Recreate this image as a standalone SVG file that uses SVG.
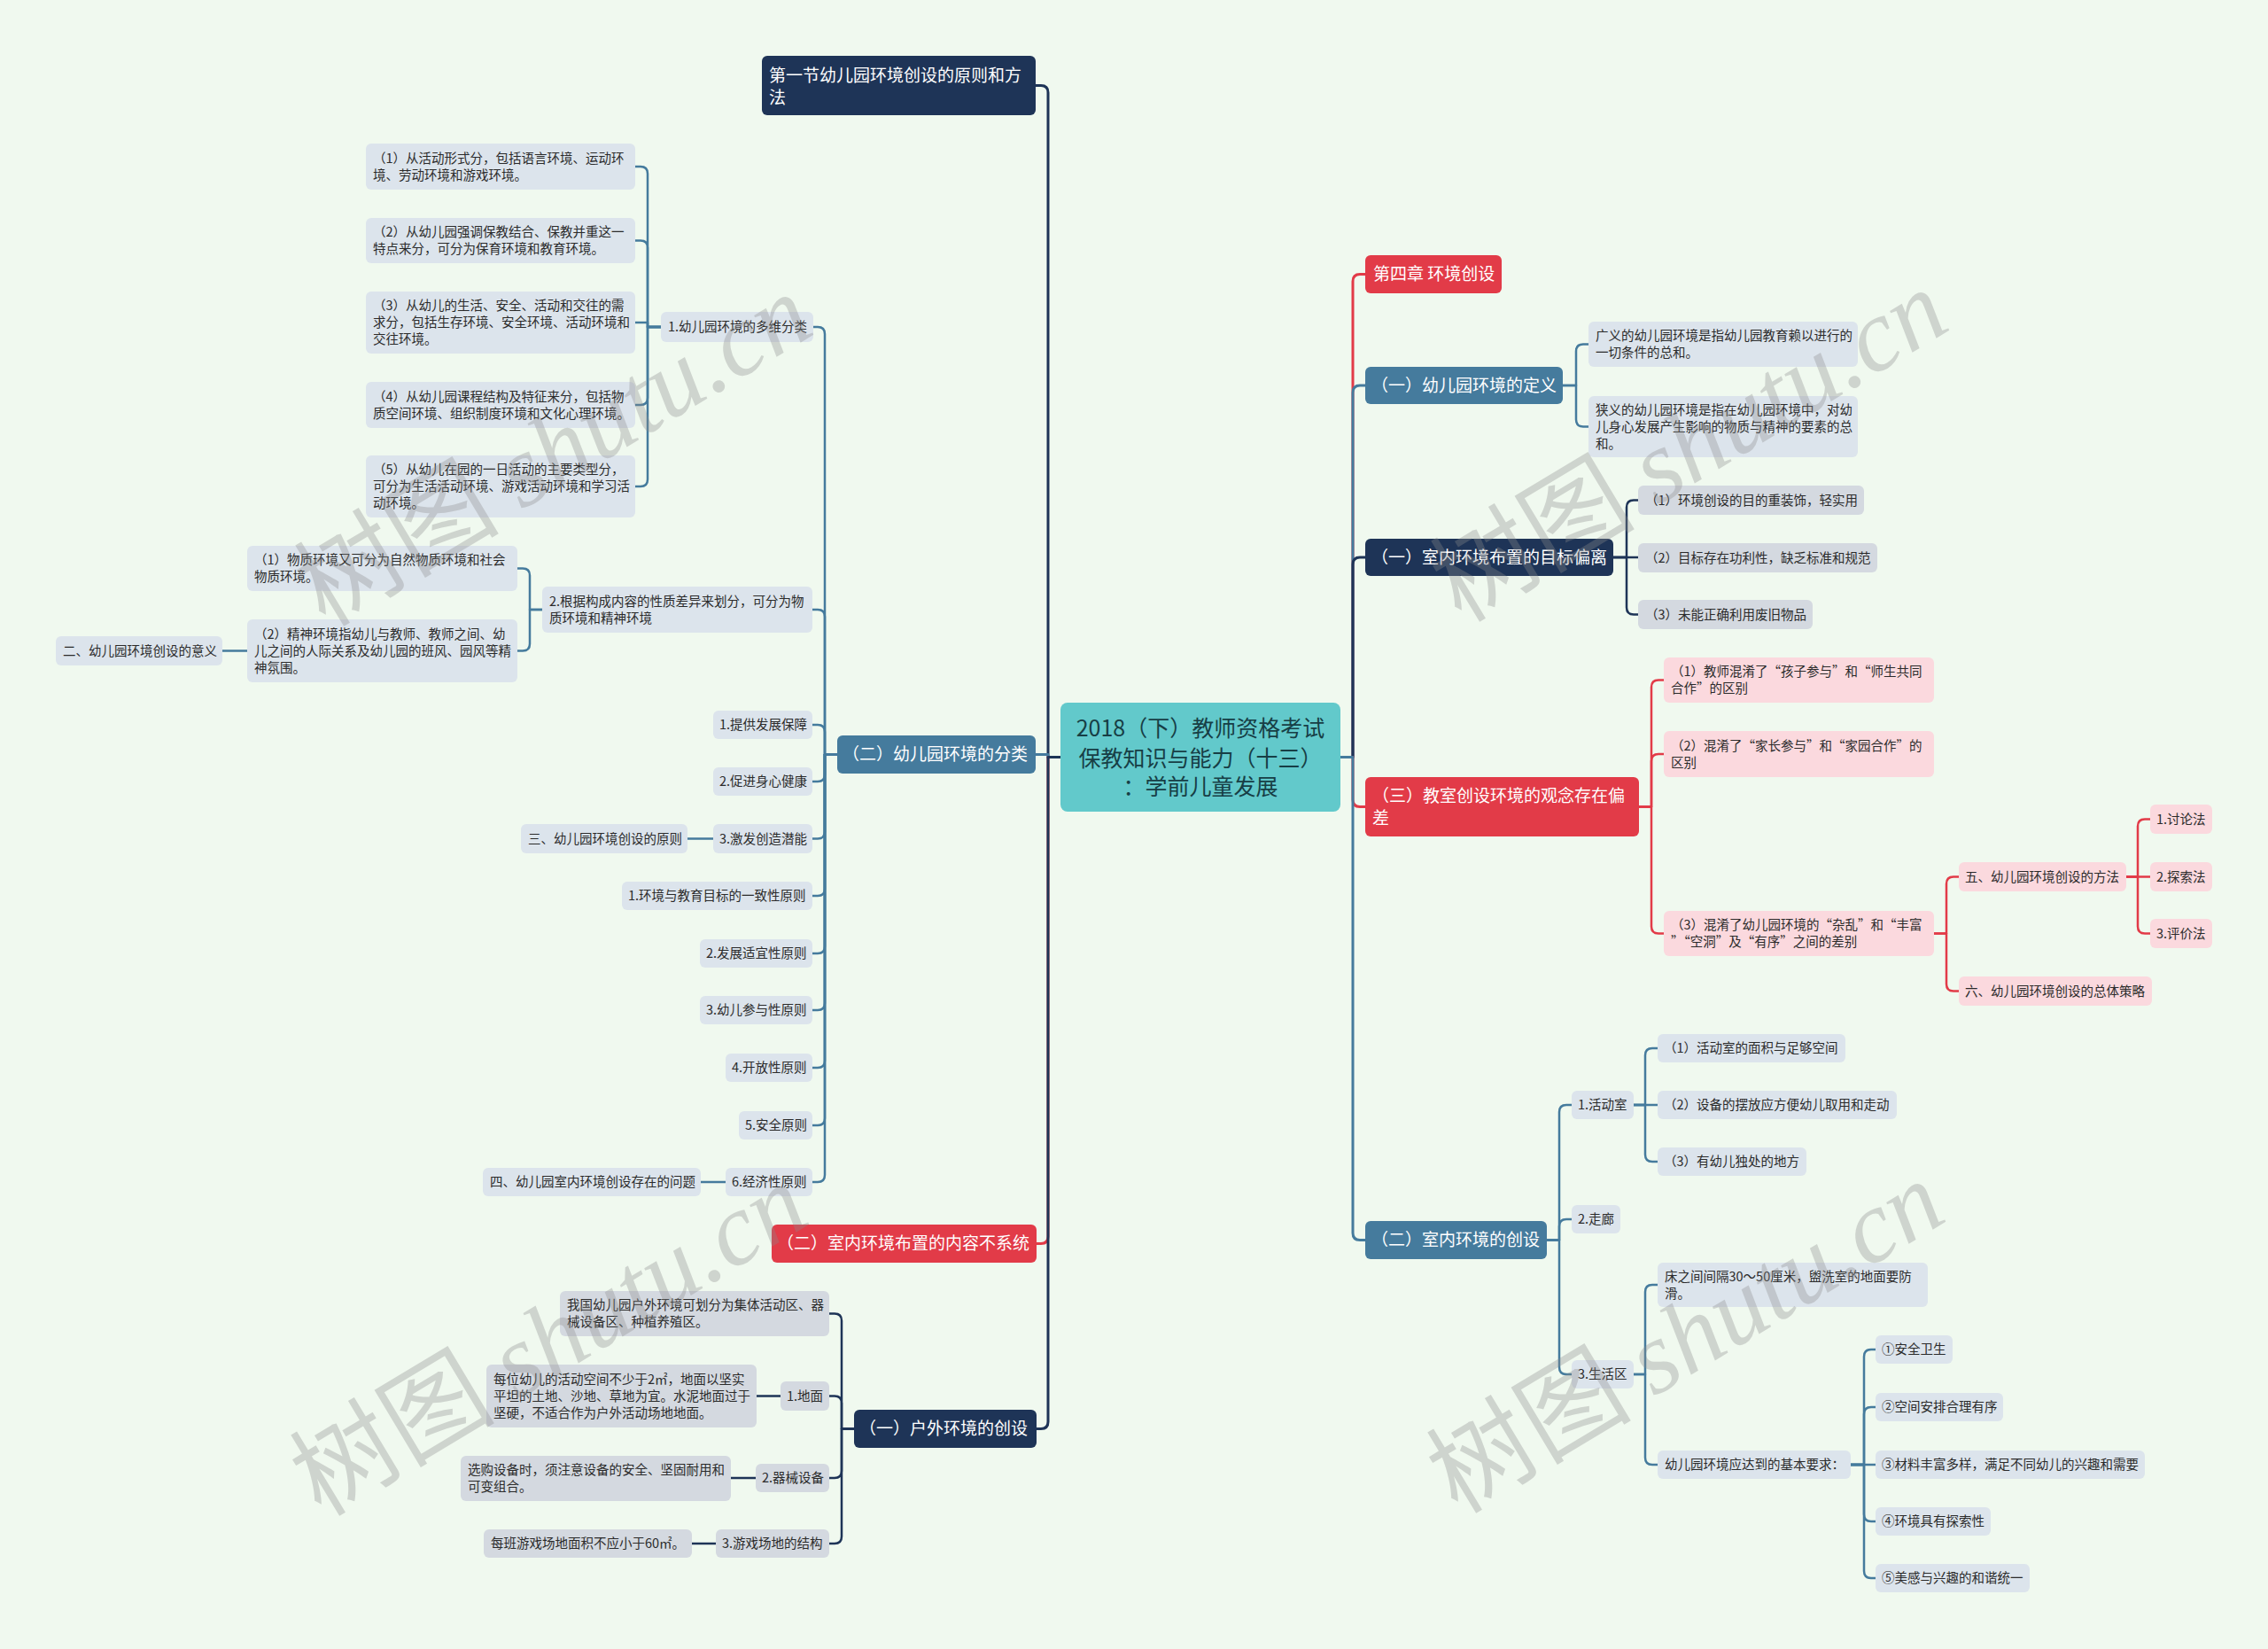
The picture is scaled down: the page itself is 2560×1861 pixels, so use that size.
<svg xmlns="http://www.w3.org/2000/svg" width="2560" height="1861" viewBox="0 0 2560 1861">
<style>
text{font-family:"Noto Sans CJK SC","Liberation Sans",sans-serif;}
.navy{fill:#1E3457}.blue{fill:#457B9D}.red{fill:#E23B48}.teal{fill:#62C9CB}
.sb{fill:#DCE4EC}.sg{fill:#D4D9E0}.sp{fill:#FBD9DE}
.tw{fill:#FFFFFF;font-size:19px}
.td{fill:#2B2B2B;font-size:14.5px}
.tc{fill:#173E45;font-size:25px;text-anchor:middle}
.c{fill:none;stroke-linejoin:round;stroke-linecap:round}
.m{stroke-width:3}.s{stroke-width:2.5}
.cn{stroke:#1E3457}.cb{stroke:#457B9D}.cr{stroke:#E23B48}
.wm{fill:#8C8C8C;opacity:0.33;font-size:116px;text-anchor:middle}
</style>
<rect x="0" y="0" width="2560" height="1861" fill="#F0F9EF"/>

<g id="connectors">
<path class="c m cn" d="M1197 854.5 H1183 V104.5 Q1183 96.5 1175 96.5 H1169"/>
<path class="c m cb" d="M1197 854.5 H1183 V851.5 H1169"/>
<path class="c m cr" d="M1197 854.5 H1183 V1395.5 Q1183 1403.5 1175 1403.5 H1170"/>
<path class="c m cn" d="M1197 854.5 H1183 V1604.5 Q1183 1612.5 1175 1612.5 H1170"/>
<path class="c m cr" d="M1513 854.5 H1527 V317.5 Q1527 309.5 1535 309.5 H1541"/>
<path class="c m cb" d="M1513 854.5 H1527 V443 Q1527 435 1535 435 H1541"/>
<path class="c m cn" d="M1513 854.5 H1527 V637 Q1527 629 1535 629 H1541"/>
<path class="c m cr" d="M1513 854.5 H1527 V902.5 Q1527 910.5 1535 910.5 H1541"/>
<path class="c m cb" d="M1513 854.5 H1527 V1391.5 Q1527 1399.5 1535 1399.5 H1541"/>
<path class="c s cb" d="M945 851.5 H931 V377 Q931 369 923 369 H918"/>
<path class="c s cb" d="M945 851.5 H931 V696 Q931 688 923 688 H917"/>
<path class="c s cb" d="M945 851.5 H931 V826 Q931 818 923 818 H917"/>
<path class="c s cb" d="M945 851.5 H931 V874 Q931 882 923 882 H917"/>
<path class="c s cb" d="M945 851.5 H931 V938.5 Q931 946.5 923 946.5 H917"/>
<path class="c s cb" d="M945 851.5 H931 V1003 Q931 1011 923 1011 H917"/>
<path class="c s cb" d="M945 851.5 H931 V1068 Q931 1076 923 1076 H917"/>
<path class="c s cb" d="M945 851.5 H931 V1132 Q931 1140 923 1140 H917"/>
<path class="c s cb" d="M945 851.5 H931 V1197 Q931 1205 923 1205 H917"/>
<path class="c s cb" d="M945 851.5 H931 V1262 Q931 1270 923 1270 H917"/>
<path class="c s cb" d="M945 851.5 H931 V1326 Q931 1334 923 1334 H917"/>
<path class="c s cb" d="M746 369 H731 V196 Q731 188 723 188 H717"/>
<path class="c s cb" d="M746 369 H731 V279.5 Q731 271.5 723 271.5 H717"/>
<path class="c s cb" d="M746 369 H731 V364 H717"/>
<path class="c s cb" d="M746 369 H731 V449 Q731 457 723 457 H717"/>
<path class="c s cb" d="M746 369 H731 V541 Q731 549 723 549 H717"/>
<path class="c s cb" d="M612 688 H598 V649.5 Q598 641.5 590 641.5 H584"/>
<path class="c s cb" d="M612 688 H598 V726.5 Q598 734.5 590 734.5 H584"/>
<path class="c s cb" d="M279 734.5 H251"/>
<path class="c s cb" d="M805 946.5 H776"/>
<path class="c s cb" d="M819 1334 H791"/>
<path class="c s cn" d="M964 1612.5 H950 V1490.5 Q950 1482.5 942 1482.5 H936"/>
<path class="c s cn" d="M964 1612.5 H950 V1583.5 Q950 1575.5 942 1575.5 H936"/>
<path class="c s cn" d="M964 1612.5 H950 V1660 Q950 1668 942 1668 H936"/>
<path class="c s cn" d="M964 1612.5 H950 V1734 Q950 1742 942 1742 H936"/>
<path class="c s cn" d="M881 1575.5 H854"/>
<path class="c s cn" d="M853 1668 H825"/>
<path class="c s cn" d="M808 1742 H781"/>
<path class="c s cb" d="M1764 435 H1779 V396.5 Q1779 388.5 1787 388.5 H1793"/>
<path class="c s cb" d="M1764 435 H1779 V473.5 Q1779 481.5 1787 481.5 H1793"/>
<path class="c s cn" d="M1821 629 H1836 V572.5 Q1836 564.5 1844 564.5 H1849"/>
<path class="c s cn" d="M1821 629 H1849"/>
<path class="c s cn" d="M1821 629 H1836 V685.5 Q1836 693.5 1844 693.5 H1849"/>
<path class="c s cr" d="M1850 910.5 H1864 V775.5 Q1864 767.5 1872 767.5 H1878"/>
<path class="c s cr" d="M1850 910.5 H1864 V859 Q1864 851 1872 851 H1878"/>
<path class="c s cr" d="M1850 910.5 H1864 V1045.5 Q1864 1053.5 1872 1053.5 H1878"/>
<path class="c s cr" d="M2183 1053.5 H2197 V997.5 Q2197 989.5 2205 989.5 H2211"/>
<path class="c s cr" d="M2183 1053.5 H2197 V1110.5 Q2197 1118.5 2205 1118.5 H2211"/>
<path class="c s cr" d="M2400 989.5 H2413 V932.5 Q2413 924.5 2421 924.5 H2427"/>
<path class="c s cr" d="M2400 989.5 H2427"/>
<path class="c s cr" d="M2400 989.5 H2413 V1045.5 Q2413 1053.5 2421 1053.5 H2427"/>
<path class="c s cb" d="M1746 1399.5 H1760 V1255 Q1760 1247 1768 1247 H1774"/>
<path class="c s cb" d="M1746 1399.5 H1760 V1384 Q1760 1376 1768 1376 H1774"/>
<path class="c s cb" d="M1746 1399.5 H1760 V1543 Q1760 1551 1768 1551 H1774"/>
<path class="c s cb" d="M1844 1247 H1857 V1191 Q1857 1183 1865 1183 H1871"/>
<path class="c s cb" d="M1844 1247 H1871"/>
<path class="c s cb" d="M1844 1247 H1857 V1303 Q1857 1311 1865 1311 H1871"/>
<path class="c s cb" d="M1844 1551 H1857 V1458 Q1857 1450 1865 1450 H1871"/>
<path class="c s cb" d="M1844 1551 H1857 V1645 Q1857 1653 1865 1653 H1871"/>
<path class="c s cb" d="M2089 1653 H2104 V1531 Q2104 1523 2112 1523 H2117"/>
<path class="c s cb" d="M2089 1653 H2104 V1596 Q2104 1588 2112 1588 H2117"/>
<path class="c s cb" d="M2089 1653 H2117"/>
<path class="c s cb" d="M2089 1653 H2104 V1709 Q2104 1717 2112 1717 H2117"/>
<path class="c s cb" d="M2089 1653 H2104 V1773 Q2104 1781 2112 1781 H2117"/>
</g>

<g id="n-center"><rect class="teal" x="1197" y="793" width="316" height="123" rx="8"/>
<text class="tc" x="1355" y="831">2018（下）教师资格考试</text>
<text class="tc" x="1355" y="865">保教知识与能力（十三）</text>
<text class="tc" x="1355" y="897">：学前儿童发展</text></g>

<g id="n-s1"><rect class="navy" x="860" y="63" width="309" height="67" rx="6"/>
<text class="tw" x="868" y="91.5">第一节幼儿园环境创设的原则和方</text>
<text class="tw" x="868" y="116.5">法</text></g>
<g id="n-fl"><rect class="blue" x="945" y="830" width="224" height="43" rx="6"/>
<text class="tw" x="951" y="858">（二）幼儿园环境的分类</text></g>
<g id="n-nr"><rect class="red" x="871" y="1382" width="299" height="43" rx="6"/>
<text class="tw" x="877" y="1410">（二）室内环境布置的内容不系统</text></g>
<g id="n-hw"><rect class="navy" x="964" y="1591" width="206" height="43" rx="6"/>
<text class="tw" x="970" y="1619">（一）户外环境的创设</text></g>

<g id="n-c4"><rect class="red" x="1541" y="288" width="154" height="43" rx="6"/>
<text class="tw" x="1550" y="316">第四章 环境创设</text></g>
<g id="n-dy"><rect class="blue" x="1541" y="414" width="223" height="42" rx="6"/>
<text class="tw" x="1548" y="441.5">（一）幼儿园环境的定义</text></g>
<g id="n-mb"><rect class="navy" x="1541" y="608" width="280" height="42" rx="6"/>
<text class="tw" x="1548" y="635.5">（一）室内环境布置的目标偏离</text></g>
<g id="n-js"><rect class="red" x="1541" y="877" width="309" height="67" rx="6"/>
<text class="tw" x="1549" y="904.5">（三）教室创设环境的观念存在偏</text>
<text class="tw" x="1549" y="929.5">差</text></g>
<g id="n-sn"><rect class="blue" x="1541" y="1378" width="205" height="43" rx="6"/>
<text class="tw" x="1548" y="1406">（二）室内环境的创设</text></g>

<g id="n-a1"><rect class="sb" x="746" y="352" width="172" height="34" rx="6"/>
<text class="td" x="754" y="374">1.幼儿园环境的多维分类</text></g>
<g id="n-a1-1"><rect class="sb" x="413" y="162" width="304" height="52" rx="6"/>
<text class="td" x="421" y="183.5">（1）从活动形式分，包括语言环境、运动环</text>
<text class="td" x="421" y="202.5">境、劳动环境和游戏环境。</text></g>
<g id="n-a1-2"><rect class="sb" x="413" y="246" width="304" height="51" rx="6"/>
<text class="td" x="421" y="267">（2）从幼儿园强调保教结合、保教并重这一</text>
<text class="td" x="421" y="286">特点来分，可分为保育环境和教育环境。</text></g>
<g id="n-a1-3"><rect class="sb" x="413" y="329" width="304" height="70" rx="6"/>
<text class="td" x="421" y="350">（3）从幼儿的生活、安全、活动和交往的需</text>
<text class="td" x="421" y="369">求分，包括生存环境、安全环境、活动环境和</text>
<text class="td" x="421" y="388">交往环境。</text></g>
<g id="n-a1-4"><rect class="sb" x="413" y="431" width="304" height="52" rx="6"/>
<text class="td" x="421" y="452.5">（4）从幼儿园课程结构及特征来分，包括物</text>
<text class="td" x="421" y="471.5">质空间环境、组织制度环境和文化心理环境。</text></g>
<g id="n-a1-5"><rect class="sb" x="413" y="514" width="304" height="70" rx="6"/>
<text class="td" x="421" y="535">（5）从幼儿在园的一日活动的主要类型分，</text>
<text class="td" x="421" y="554">可分为生活活动环境、游戏活动环境和学习活</text>
<text class="td" x="421" y="573">动环境。</text></g>
<g id="n-a2"><rect class="sb" x="612" y="662" width="305" height="52" rx="6"/>
<text class="td" x="620" y="683.5">2.根据构成内容的性质差异来划分，可分为物</text>
<text class="td" x="620" y="702.5">质环境和精神环境</text></g>
<g id="n-a2-1"><rect class="sb" x="279" y="616" width="305" height="51" rx="6"/>
<text class="td" x="287" y="637">（1）物质环境又可分为自然物质环境和社会</text>
<text class="td" x="287" y="656">物质环境。</text></g>
<g id="n-a2-2"><rect class="sb" x="279" y="699" width="305" height="71" rx="6"/>
<text class="td" x="287" y="720.5">（2）精神环境指幼儿与教师、教师之间、幼</text>
<text class="td" x="287" y="739.5">儿之间的人际关系及幼儿园的班风、园风等精</text>
<text class="td" x="287" y="758.5">神氛围。</text></g>
<g id="n-a2-2-1"><rect class="sb" x="63" y="718" width="188" height="33" rx="6"/>
<text class="td" x="71" y="739.5">二、幼儿园环境创设的意义</text></g>
<g id="n-a3"><rect class="sb" x="805" y="802" width="112" height="32" rx="6"/>
<text class="td" x="812" y="823">1.提供发展保障</text></g>
<g id="n-a4"><rect class="sb" x="805" y="866" width="112" height="32" rx="6"/>
<text class="td" x="812" y="887">2.促进身心健康</text></g>
<g id="n-a5"><rect class="sb" x="805" y="930" width="112" height="33" rx="6"/>
<text class="td" x="812" y="951.5">3.激发创造潜能</text></g>
<g id="n-a5-1"><rect class="sb" x="588" y="930" width="188" height="33" rx="6"/>
<text class="td" x="596" y="951.5">三、幼儿园环境创设的原则</text></g>
<g id="n-a6"><rect class="sb" x="702" y="995" width="215" height="32" rx="6"/>
<text class="td" x="709" y="1016">1.环境与教育目标的一致性原则</text></g>
<g id="n-a7"><rect class="sb" x="790" y="1060" width="127" height="32" rx="6"/>
<text class="td" x="797" y="1081">2.发展适宜性原则</text></g>
<g id="n-a8"><rect class="sb" x="790" y="1124" width="127" height="32" rx="6"/>
<text class="td" x="797" y="1145">3.幼儿参与性原则</text></g>
<g id="n-a9"><rect class="sb" x="819" y="1189" width="98" height="32" rx="6"/>
<text class="td" x="826" y="1210">4.开放性原则</text></g>
<g id="n-a10"><rect class="sb" x="834" y="1254" width="83" height="32" rx="6"/>
<text class="td" x="841" y="1275">5.安全原则</text></g>
<g id="n-a11"><rect class="sb" x="819" y="1318" width="98" height="32" rx="6"/>
<text class="td" x="826" y="1339">6.经济性原则</text></g>
<g id="n-a11-1"><rect class="sb" x="545" y="1318" width="246" height="32" rx="6"/>
<text class="td" x="553" y="1339">四、幼儿园室内环境创设存在的问题</text></g>

<g id="n-b1"><rect class="sg" x="632" y="1457" width="304" height="51" rx="6"/>
<text class="td" x="640" y="1478">我国幼儿园户外环境可划分为集体活动区、器</text>
<text class="td" x="640" y="1497">械设备区、种植养殖区。</text></g>
<g id="n-b2"><rect class="sg" x="881" y="1559" width="55" height="33" rx="6"/>
<text class="td" x="888" y="1580.5">1.地面</text></g>
<g id="n-b2-1"><rect class="sg" x="549" y="1540" width="305" height="71" rx="6"/>
<text class="td" x="557" y="1561.5">每位幼儿的活动空间不少于2㎡，地面以坚实</text>
<text class="td" x="557" y="1580.5">平坦的土地、沙地、草地为宜。水泥地面过于</text>
<text class="td" x="557" y="1599.5">坚硬，不适合作为户外活动场地地面。</text></g>
<g id="n-b3"><rect class="sg" x="853" y="1652" width="83" height="32" rx="6"/>
<text class="td" x="860" y="1673">2.器械设备</text></g>
<g id="n-b3-1"><rect class="sg" x="520" y="1643" width="305" height="51" rx="6"/>
<text class="td" x="528" y="1664">选购设备时，须注意设备的安全、坚固耐用和</text>
<text class="td" x="528" y="1683">可变组合。</text></g>
<g id="n-b4"><rect class="sg" x="808" y="1726" width="128" height="32" rx="6"/>
<text class="td" x="815" y="1747">3.游戏场地的结构</text></g>
<g id="n-b4-1"><rect class="sg" x="546" y="1726" width="235" height="32" rx="6"/>
<text class="td" x="554" y="1747">每班游戏场地面积不应小于60㎡。</text></g>

<g id="n-c1"><rect class="sb" x="1793" y="363" width="304" height="51" rx="6"/>
<text class="td" x="1801" y="384">广义的幼儿园环境是指幼儿园教育赖以进行的</text>
<text class="td" x="1801" y="403">一切条件的总和。</text></g>
<g id="n-c2"><rect class="sb" x="1793" y="447" width="304" height="69" rx="6"/>
<text class="td" x="1801" y="467.5">狭义的幼儿园环境是指在幼儿园环境中，对幼</text>
<text class="td" x="1801" y="486.5">儿身心发展产生影响的物质与精神的要素的总</text>
<text class="td" x="1801" y="505.5">和。</text></g>
<g id="n-d1"><rect class="sg" x="1849" y="548" width="255" height="33" rx="6"/>
<text class="td" x="1857" y="569.5">（1）环境创设的目的重装饰，轻实用</text></g>
<g id="n-d2"><rect class="sg" x="1849" y="613" width="270" height="33" rx="6"/>
<text class="td" x="1857" y="634.5">（2）目标存在功利性，缺乏标准和规范</text></g>
<g id="n-d3"><rect class="sg" x="1849" y="677" width="197" height="33" rx="6"/>
<text class="td" x="1857" y="698.5">（3）未能正确利用废旧物品</text></g>
<g id="n-e1"><rect class="sp" x="1878" y="742" width="305" height="51" rx="6"/>
<text class="td" x="1886" y="763">（1）教师混淆了“孩子参与”和“师生共同</text>
<text class="td" x="1886" y="782">合作”的区别</text></g>
<g id="n-e2"><rect class="sp" x="1878" y="825" width="305" height="52" rx="6"/>
<text class="td" x="1886" y="846.5">（2）混淆了“家长参与”和“家园合作”的</text>
<text class="td" x="1886" y="865.5">区别</text></g>
<g id="n-e3"><rect class="sp" x="1878" y="1028" width="305" height="51" rx="6"/>
<text class="td" x="1886" y="1049">（3）混淆了幼儿园环境的“杂乱”和“丰富</text>
<text class="td" x="1886" y="1068">”“空洞”及“有序”之间的差别</text></g>
<g id="n-e3-1"><rect class="sp" x="2211" y="973" width="189" height="33" rx="6"/>
<text class="td" x="2218" y="994.5">五、幼儿园环境创设的方法</text></g>
<g id="n-e3-2"><rect class="sp" x="2211" y="1102" width="218" height="33" rx="6"/>
<text class="td" x="2218" y="1123.5">六、幼儿园环境创设的总体策略</text></g>
<g id="n-f1"><rect class="sp" x="2427" y="908" width="70" height="33" rx="6"/>
<text class="td" x="2434" y="929.5">1.讨论法</text></g>
<g id="n-f2"><rect class="sp" x="2427" y="973" width="70" height="33" rx="6"/>
<text class="td" x="2434" y="994.5">2.探索法</text></g>
<g id="n-f3"><rect class="sp" x="2427" y="1037" width="70" height="33" rx="6"/>
<text class="td" x="2434" y="1058.5">3.评价法</text></g>
<g id="n-g1"><rect class="sb" x="1774" y="1231" width="70" height="32" rx="6"/>
<text class="td" x="1781" y="1252">1.活动室</text></g>
<g id="n-g2"><rect class="sb" x="1774" y="1360" width="55" height="32" rx="6"/>
<text class="td" x="1781" y="1381">2.走廊</text></g>
<g id="n-g3"><rect class="sb" x="1774" y="1535" width="70" height="32" rx="6"/>
<text class="td" x="1781" y="1556">3.生活区</text></g>
<g id="n-h1"><rect class="sb" x="1871" y="1167" width="212" height="32" rx="6"/>
<text class="td" x="1878" y="1188">（1）活动室的面积与足够空间</text></g>
<g id="n-h2"><rect class="sb" x="1871" y="1231" width="270" height="32" rx="6"/>
<text class="td" x="1878" y="1252">（2）设备的摆放应方便幼儿取用和走动</text></g>
<g id="n-h3"><rect class="sb" x="1871" y="1295" width="168" height="32" rx="6"/>
<text class="td" x="1878" y="1316">（3）有幼儿独处的地方</text></g>
<g id="n-i1"><rect class="sb" x="1871" y="1425" width="305" height="50" rx="6"/>
<text class="td" x="1879" y="1445.5">床之间间隔30～50厘米，盥洗室的地面要防</text>
<text class="td" x="1879" y="1464.5">滑。</text></g>
<g id="n-i2"><rect class="sb" x="1871" y="1637" width="218" height="32" rx="6"/>
<text class="td" x="1879" y="1658">幼儿园环境应达到的基本要求：</text></g>
<g id="n-j1"><rect class="sb" x="2117" y="1507" width="87" height="32" rx="6"/>
<text class="td" x="2124" y="1528">①安全卫生</text></g>
<g id="n-j2"><rect class="sb" x="2117" y="1572" width="144" height="32" rx="6"/>
<text class="td" x="2124" y="1593">②空间安排合理有序</text></g>
<g id="n-j3"><rect class="sb" x="2117" y="1637" width="304" height="32" rx="6"/>
<text class="td" x="2124" y="1658">③材料丰富多样，满足不同幼儿的兴趣和需要</text></g>
<g id="n-j4"><rect class="sb" x="2117" y="1701" width="130" height="32" rx="6"/>
<text class="td" x="2124" y="1722">④环境具有探索性</text></g>
<g id="n-j5"><rect class="sb" x="2117" y="1765" width="174" height="32" rx="6"/>
<text class="td" x="2124" y="1786">⑤美感与兴趣的和谐统一</text></g>

<g id="watermarks">
<text class="wm" transform="translate(645,542) rotate(-31)">树图 <tspan font-family="Liberation Serif" font-style="italic">shutu.cn</tspan></text>
<text class="wm" transform="translate(1927,537) rotate(-31)">树图 <tspan font-family="Liberation Serif" font-style="italic">shutu.cn</tspan></text>
<text class="wm" transform="translate(640,1546) rotate(-31)">树图 <tspan font-family="Liberation Serif" font-style="italic">shutu.cn</tspan></text>
<text class="wm" transform="translate(1923,1543) rotate(-31)">树图 <tspan font-family="Liberation Serif" font-style="italic">shutu.cn</tspan></text>
</g>
</svg>
